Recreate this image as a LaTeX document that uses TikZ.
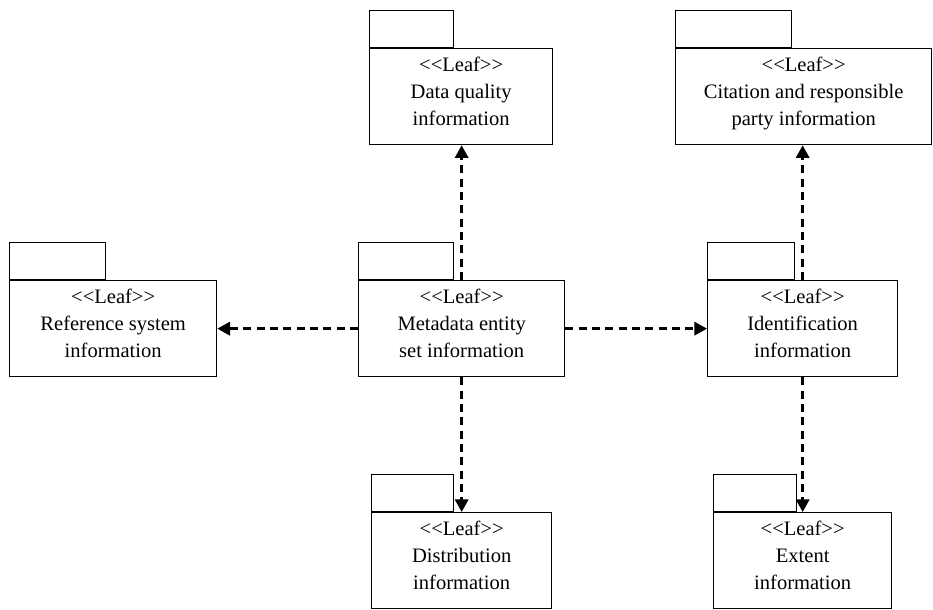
\documentclass[tikz,border=0pt]{standalone}
\usepackage{fontspec}
\setmainfont{Liberation Serif}
\usetikzlibrary{arrows.meta}

\tikzset{
  pkgline/.style={draw=black, line width=1pt},
  pkgbody/.style={pkgline, rectangle, inner sep=0pt, fill=white},
  pkgtab/.style={pkgline, rectangle, inner sep=0pt, minimum height=27.75pt},
  pkgtext/.style={align=center, inner sep=0pt, anchor=north,
    font=\fontsize{15.4pt}{20.25pt}\selectfont},
  dep/.style={line width=1.9pt, dash pattern=on 6pt off 4pt,
    -{Triangle[length=9.5pt,width=10pt]}},
}

% UML package: name, left, top, right, bottom, tab right edge, label
\newcommand\umlpkg[7]{%
  \node[pkgbody, anchor=north west,
        minimum width={(#4-#2)*0.75pt}, minimum height={(#5-#3)*0.75pt}]
        (#1) at (#2,#3) {};
  \node[pkgtab, anchor=south west, minimum width={(#6-#2)*0.75pt}]
        (#1-tab) at (#1.north west) {};
  \node[pkgtext] (#1-label) at ([yshift=-6.75pt]#1.north) {#7};
}

\begin{document}
\begin{tikzpicture}[x=0.75pt, y=-0.75pt]
  \useasboundingbox (0,0) rectangle (933,610);

  \umlpkg{dq}{369}{48}{552}{144}{453}{<{}<Leaf>{}>\\Data quality\\information}
  \umlpkg{cit}{675}{48}{931}{144}{791}{<{}<Leaf>{}>\\Citation and responsible\\party information}
  \umlpkg{ref}{9}{280}{216}{376}{105}{<{}<Leaf>{}>\\Reference system\\information}
  \umlpkg{meta}{358}{280}{564}{376}{453}{<{}<Leaf>{}>\\Metadata entity\\set information}
  \umlpkg{ident}{707}{280}{897}{376}{794}{<{}<Leaf>{}>\\Identification\\information}
  \umlpkg{dist}{371}{512}{551}{608}{453}{<{}<Leaf>{}>\\Distribution\\information}
  \umlpkg{ext}{713}{512}{891}{608}{796}{<{}<Leaf>{}>\\Extent\\information}

  % dependencies
  \draw[dep] (meta.north) -- (meta.north |- dq.south);
  \draw[dep] (meta.west) -- (ref.east);
  \draw[dep] (meta.east) -- (ident.west);
  \draw[dep] (meta.south) -- (meta.south |- dist.north);
  \draw[dep] (ident.north) -- (ident.north |- cit.south);
  \draw[dep] (ident.south) -- (ident.south |- ext.north);
\end{tikzpicture}
\end{document}
